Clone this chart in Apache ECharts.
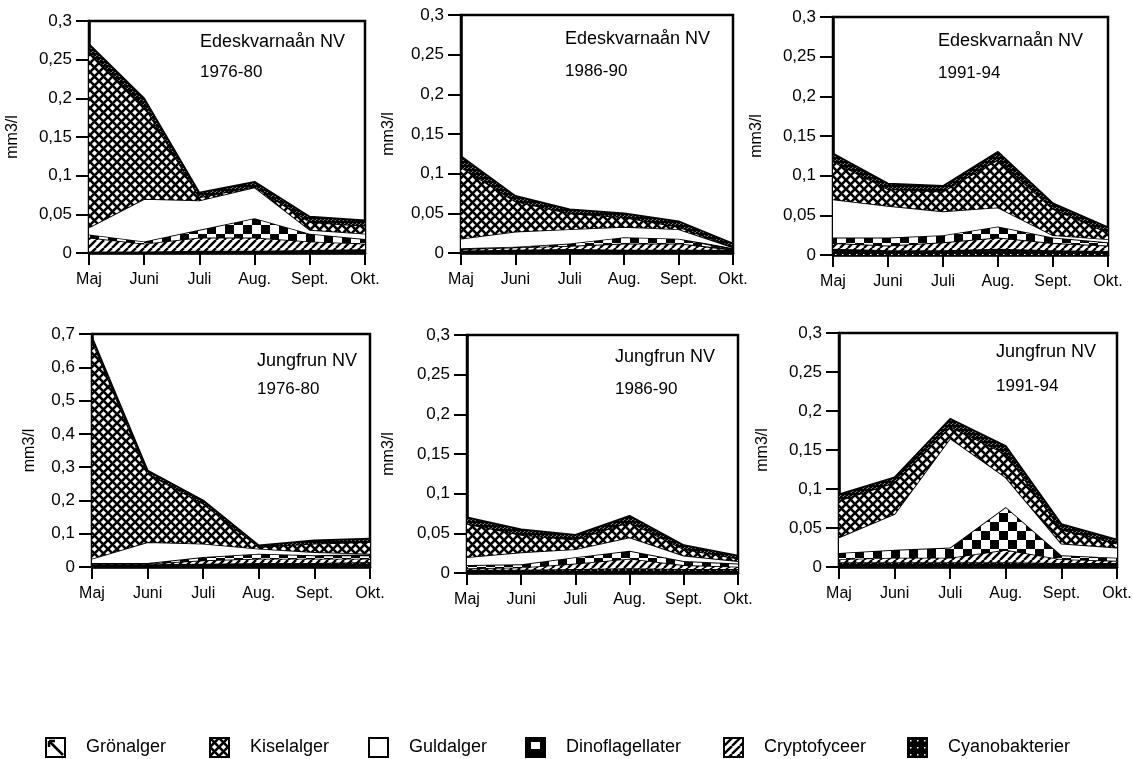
<!DOCTYPE html>
<html>
<head>
<meta charset="utf-8">
<script src="https://cdn.jsdelivr.net/npm/echarts@6/dist/echarts.min.js"></script>
<style>
html,body{margin:0;padding:0;background:#fff;}
#chart{width:1133px;height:759px;}
</style>
</head>
<body>
<div id="chart"></div>
<script>
// ---- data ----
const months = ['Maj', 'Juni', 'Juli', 'Aug.', 'Sept.', 'Okt.'];
// legend order (top of stack first)
const groupNames = ['Grönalger', 'Kiselalger', 'Guldalger', 'Dinoflagellater', 'Cryptofyceer', 'Cyanobakterier'];
const stations = ['Edeskvarnaån NV', 'Edeskvarnaån NV', 'Edeskvarnaån NV', 'Jungfrun NV', 'Jungfrun NV', 'Jungfrun NV'];
const periods = ['1976-80', '1986-90', '1991-94', '1976-80', '1986-90', '1991-94'];
const yMax = [0.3, 0.3, 0.3, 0.7, 0.3, 0.3];
const yStep = [0.05, 0.05, 0.05, 0.1, 0.05, 0.05];
const yName = 'mm3/l';

// Edeskvarnaån NV 1976-80 (mm3/l)
const e7680Cyano = [0.002, 0.002, 0.003, 0.003, 0.004, 0.005];
const e7680Crypto = [0.018, 0.010, 0.017, 0.017, 0.011, 0.007];
const e7680Dino = [0.004, 0.003, 0.010, 0.025, 0.010, 0.006];
const e7680Guld = [0.009, 0.055, 0.038, 0.040, 0.005, 0.007];
const e7680Kisel = [0.227, 0.120, 0.004, 0.001, 0.010, 0.010];
const e7680Gron = [0.010, 0.010, 0.006, 0.006, 0.007, 0.007];

// Edeskvarnaån NV 1986-90
const e8690Cyano = [0.003, 0.004, 0.005, 0.004, 0.004, 0.003];
const e8690Crypto = [0.002, 0.003, 0.004, 0.008, 0.008, 0.001];
const e8690Dino = [0.001, 0.001, 0.003, 0.008, 0.006, 0.001];
const e8690Guld = [0.012, 0.019, 0.018, 0.013, 0.012, 0.002];
const e8690Kisel = [0.090, 0.038, 0.020, 0.012, 0.003, 0.001];
const e8690Gron = [0.014, 0.007, 0.005, 0.005, 0.007, 0.004];

// Edeskvarnaån NV 1991-94
const e9194Cyano = [0.008, 0.006, 0.006, 0.008, 0.006, 0.005];
const e9194Crypto = [0.007, 0.006, 0.010, 0.014, 0.009, 0.007];
const e9194Dino = [0.007, 0.010, 0.009, 0.014, 0.007, 0.004];
const e9194Guld = [0.048, 0.040, 0.030, 0.024, 0.003, 0.004];
const e9194Kisel = [0.048, 0.021, 0.025, 0.060, 0.033, 0.008];
const e9194Gron = [0.010, 0.007, 0.007, 0.010, 0.007, 0.007];

// Jungfrun NV 1976-80
const j7680Cyano = [0.008, 0.008, 0.010, 0.012, 0.012, 0.015];
const j7680Crypto = [0.002, 0.002, 0.010, 0.013, 0.013, 0.010];
const j7680Dino = [0.002, 0.002, 0.010, 0.015, 0.010, 0.010];
const j7680Guld = [0.013, 0.063, 0.040, 0.015, 0.010, 0.005];
const j7680Kisel = [0.655, 0.205, 0.120, 0.005, 0.025, 0.035];
const j7680Gron = [0.010, 0.010, 0.010, 0.005, 0.010, 0.010];

// Jungfrun NV 1986-90
const j8690Cyano = [0.004, 0.004, 0.005, 0.006, 0.005, 0.005];
const j8690Crypto = [0.002, 0.003, 0.007, 0.012, 0.005, 0.003];
const j8690Dino = [0.004, 0.004, 0.008, 0.010, 0.005, 0.004];
const j8690Guld = [0.010, 0.015, 0.010, 0.017, 0.007, 0.003];
const j8690Kisel = [0.042, 0.022, 0.012, 0.019, 0.008, 0.003];
const j8690Gron = [0.008, 0.007, 0.006, 0.008, 0.005, 0.004];

// Jungfrun NV 1991-94
const j9194Cyano = [0.006, 0.006, 0.006, 0.006, 0.005, 0.005];
const j9194Crypto = [0.004, 0.006, 0.006, 0.016, 0.005, 0.003];
const j9194Dino = [0.008, 0.010, 0.013, 0.055, 0.005, 0.004];
const j9194Guld = [0.020, 0.046, 0.140, 0.038, 0.015, 0.013];
const j9194Kisel = [0.047, 0.040, 0.015, 0.030, 0.018, 0.005];
const j9194Gron = [0.008, 0.007, 0.010, 0.010, 0.007, 0.005];

// per panel, bottom of stack first: Cyano, Crypto, Dino, Guld, Kisel, Grön
const panels = [
  [e7680Cyano, e7680Crypto, e7680Dino, e7680Guld, e7680Kisel, e7680Gron],
  [e8690Cyano, e8690Crypto, e8690Dino, e8690Guld, e8690Kisel, e8690Gron],
  [e9194Cyano, e9194Crypto, e9194Dino, e9194Guld, e9194Kisel, e9194Gron],
  [j7680Cyano, j7680Crypto, j7680Dino, j7680Guld, j7680Kisel, j7680Gron],
  [j8690Cyano, j8690Crypto, j8690Dino, j8690Guld, j8690Kisel, j8690Gron],
  [j9194Cyano, j9194Crypto, j9194Dino, j9194Guld, j9194Kisel, j9194Gron]
];
const stackNames = ['Cyanobakterier', 'Cryptofyceer', 'Dinoflagellater', 'Guldalger', 'Kiselalger', 'Grönalger'];

// ---- layout & styles ----
const gridBoxes = [
  {left: 89, top: 21, width: 276, height: 232},
  {left: 461, top: 15, width: 272, height: 238},
  {left: 833, top: 17, width: 275, height: 238},
  {left: 92, top: 334, width: 278, height: 233},
  {left: 467, top: 335, width: 271, height: 238},
  {left: 839, top: 333, width: 278, height: 234}
];
const titlePos = [
  {left: 200, top: 33, gap: 13},
  {left: 565, top: 30, gap: 15},
  {left: 938, top: 32, gap: 15},
  {left: 257, top: 352, gap: 11},
  {left: 615, top: 348, gap: 15},
  {left: 996, top: 343, gap: 17}
];
const yNameGap = [68, 64, 68, 54, 70, 68];
const legendX = [45, 209, 368, 525, 723, 907];

function makePattern(kind) {
  const c = document.createElement('canvas');
  let s = 8;
  if (kind === 'gron') s = 4;
  if (kind === 'gronIcon') s = 19;
  if (kind === 'kisel') s = 9;
  if (kind === 'dino') s = 18;
  if (kind === 'dinoIcon') s = 19;
  if (kind === 'crypto') s = 8;
  if (kind === 'cyano') s = 7;
  c.width = s; c.height = s;
  const g = c.getContext('2d');
  g.fillStyle = '#fff';
  g.fillRect(0, 0, s, s);
  g.strokeStyle = '#000';
  g.fillStyle = '#000';
  if (kind === 'gron') {
    g.lineWidth = 3.4;
    for (let k = -1; k <= 1; k++) {
      g.beginPath(); g.moveTo(k * s, 0); g.lineTo(k * s + s, s); g.stroke();
    }
  } else if (kind === 'gronIcon') {
    g.lineWidth = 2.5;
    g.beginPath(); g.moveTo(3, 3); g.lineTo(s - 2, s - 2); g.stroke();
    g.beginPath(); g.moveTo(3, 3); g.lineTo(9, 3); g.stroke();
    g.beginPath(); g.moveTo(3, 3); g.lineTo(3, 9); g.stroke();
  } else if (kind === 'kisel') {
    g.lineWidth = 2.6;
    for (let k = -1; k <= 1; k++) {
      g.beginPath(); g.moveTo(k * s, 0); g.lineTo(k * s + s, s); g.stroke();
      g.beginPath(); g.moveTo(k * s + s, 0); g.lineTo(k * s, s); g.stroke();
    }
  } else if (kind === 'dino') {
    const h = s / 2;
    g.fillRect(0, 0, h, h);
    g.fillRect(h, h, h, h);
  } else if (kind === 'dinoIcon') {
    g.fillRect(0, 0, s, s);
    g.fillStyle = '#fff';
    g.fillRect(5, 4, 9, 7);
  } else if (kind === 'crypto') {
    g.lineWidth = 2.4;
    for (let k = -1; k <= 1; k++) {
      g.beginPath(); g.moveTo(k * s, s); g.lineTo(k * s + s, 0); g.stroke();
    }
  } else if (kind === 'cyano') {
    g.fillRect(0, 0, s, s);
    g.fillStyle = '#fff';
    g.fillRect(2, 2, 1.5, 1.5);
  }
  return {image: c, repeat: 'repeat'};
}
const fills = {
  'Grönalger': makePattern('gron'),
  'Kiselalger': makePattern('kisel'),
  'Guldalger': '#ffffff',
  'Dinoflagellater': makePattern('dino'),
  'Cryptofyceer': makePattern('crypto'),
  'Cyanobakterier': makePattern('cyano')
};
const legendFills = Object.assign({}, fills, {
  'Grönalger': makePattern('gronIcon'),
  'Dinoflagellater': makePattern('dinoIcon')
});

const FONT = '"Liberation Sans", Arial, Helvetica, sans-serif';
function fmt(v) {
  return String(+v.toFixed(2)).replace('.', ',');
}

const grids = [], xAxes = [], yAxes = [], series = [], titles = [], legends = [];
panels.forEach((panel, i) => {
  grids.push(Object.assign({
    show: true, borderColor: '#000', borderWidth: 2.5, backgroundColor: 'transparent',
    containLabel: false, outerBoundsMode: 'none'
  }, gridBoxes[i]));
  xAxes.push({
    type: 'category', gridIndex: i, data: months, boundaryGap: false,
    axisLine: {lineStyle: {color: '#000', width: 2.5}},
    axisTick: {show: true, inside: false, length: 12, lineStyle: {color: '#000', width: 2}},
    axisLabel: {color: '#000', fontFamily: FONT, fontSize: 16, margin: 19, interval: 0},
    splitLine: {show: false}
  });
  yAxes.push({
    type: 'value', gridIndex: i, min: 0, max: yMax[i], interval: yStep[i],
    name: yName, nameLocation: 'middle', nameGap: yNameGap[i], nameRotate: 90,
    nameTextStyle: {color: '#000', fontFamily: FONT, fontSize: 16},
    axisLine: {show: true, lineStyle: {color: '#000', width: 2.5}},
    axisTick: {show: true, inside: false, length: 13, lineStyle: {color: '#000', width: 2}},
    axisLabel: {color: '#000', fontFamily: FONT, fontSize: 17, margin: 17, formatter: fmt},
    splitLine: {show: false}
  });
  titles.push({
    text: stations[i], subtext: periods[i],
    left: titlePos[i].left, top: titlePos[i].top, itemGap: titlePos[i].gap, padding: 0,
    textStyle: {color: '#000', fontFamily: FONT, fontSize: 18, fontWeight: 'normal'},
    subtextStyle: {color: '#000', fontFamily: FONT, fontSize: 17}
  });
  panel.forEach((vals, j) => {
    series.push({
      name: stackNames[j], type: 'line', xAxisIndex: i, yAxisIndex: i,
      stack: 'panel' + i, data: vals, symbol: 'none', showSymbol: false,
      smooth: false, silent: true,
      lineStyle: {color: '#000', width: 1.8},
      itemStyle: {color: '#000'},
      areaStyle: {color: fills[stackNames[j]], opacity: 1},
      z: 2 + j
    });
  });
});

groupNames.forEach((name, k) => {
  legends.push({
    left: legendX[k], top: 737, orient: 'horizontal', selectedMode: false,
    itemWidth: 19, itemHeight: 19, padding: 0,
    data: [{name: name, icon: 'rect', itemStyle: {color: legendFills[name], borderColor: '#000', borderWidth: 2}}],
    textStyle: {color: '#000', fontFamily: FONT, fontSize: 18, padding: [0, 0, 0, 16]}
  });
});

const chart = echarts.init(document.getElementById('chart'), null, {renderer: 'canvas'});
chart.setOption({
  backgroundColor: '#fff',
  animation: false,
  title: titles,
  legend: legends,
  grid: grids,
  xAxis: xAxes,
  yAxis: yAxes,
  series: series
});
</script>
</body>
</html>
